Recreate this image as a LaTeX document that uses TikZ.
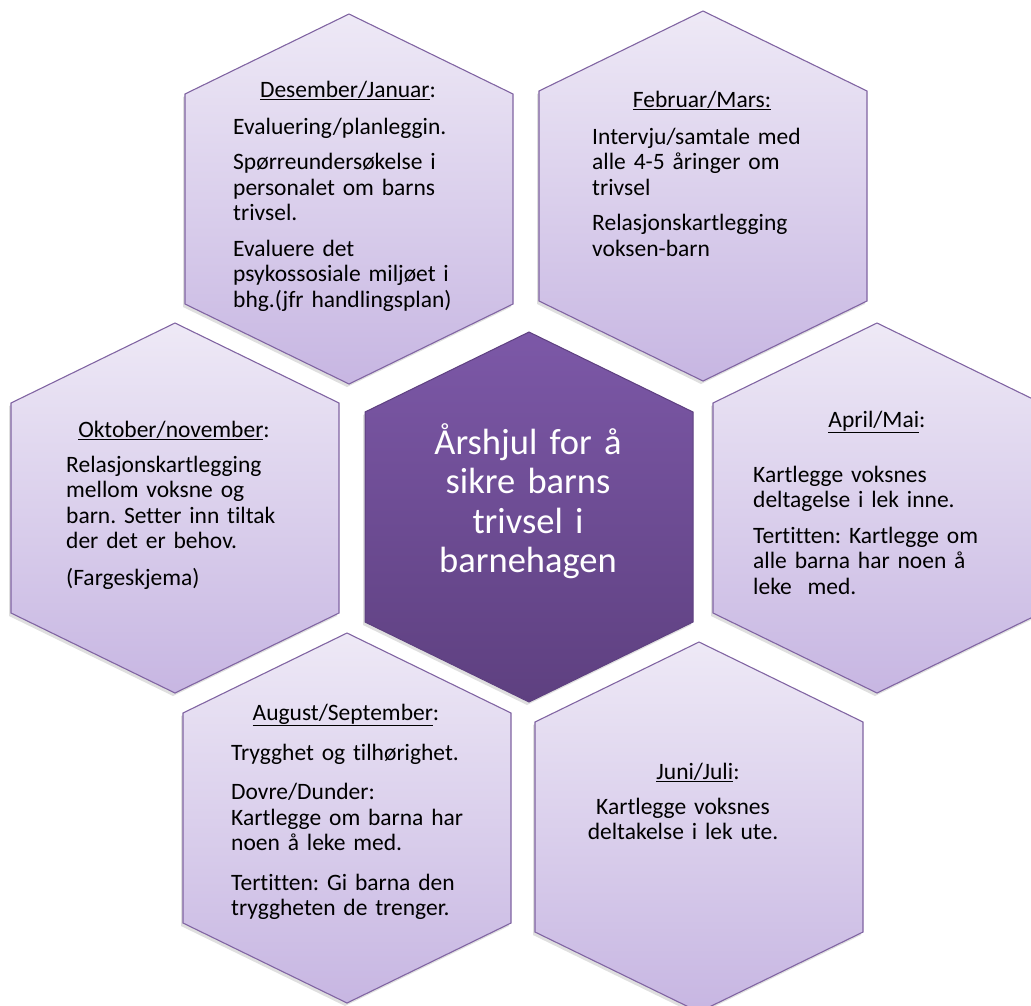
\documentclass[tikz,border=0pt]{standalone}
\usepackage{fontspec}
\setmainfont{Carlito}[Ligatures={NoCommon}]
\usetikzlibrary{shadows}

\definecolor{hexlight}{HTML}{EEE9F6}
\definecolor{hexdark}{HTML}{C7B6E2}
\definecolor{hexline}{HTML}{8064A2}
\definecolor{midtop}{HTML}{7C58A7}
\definecolor{midbot}{HTML}{5E4080}

\tikzset{
  monthhex/.style={draw=hexline, line width=1.1pt, top color=hexlight, bottom color=hexdark,
    drop shadow={opacity=0.25, shadow xshift=-2pt, shadow yshift=-3pt}},
  midhex/.style={draw=midbot, line width=1pt, top color=midtop, bottom color=midbot,
    drop shadow={opacity=0.25, shadow xshift=-2pt, shadow yshift=-3pt}},
  headtxt/.style={anchor=base, inner sep=0pt, font=\fontsize{23.5}{25.5}\selectfont},
  bodytxt/.style={anchor=base west, inner sep=0pt, align=left, text width=270pt,
    font=\fontsize{23.5}{25.5}\selectfont},
}

% hexagon round a centre (x,y), pointy top
\newcommand{\hexcell}[3]{\path[#1] (#2,#3-185) -- ++(164,80) -- ++(0,210) -- ++(-164,80) -- ++(-164,-80) -- ++(0,-210) -- cycle;}

\begin{document}
\frenchspacing
\begin{tikzpicture}[x=1pt,y=-1pt]
\useasboundingbox (0,0) rectangle (1031,1005);
\clip (0,0) rectangle (1031,1005);

\hexcell{monthhex}{349}{199} %des/jan
\hexcell{monthhex}{703}{196} %feb/mars
\hexcell{monthhex}{175}{508} %okt/nov
\hexcell{monthhex}{877}{508} %april/mai
\hexcell{monthhex}{347}{818} %aug/sep
\hexcell{monthhex}{699}{827} %juni/juli
\hexcell{midhex}{529}{517}   %centre

\node[headtxt] (dj) at (348,97) {\underline{Desember/Januar}:};
\node[bodytxt] (djtxt) at (233,134) {Evaluering/planleggin.\\[10pt]
  Spørreundersøkelse i\\ personalet om barns\\ trivsel.\\[10pt]
  Evaluere det\\ psykossosiale miljøet i\\ bhg.(jfr handlingsplan)};

\node[headtxt] (fm) at (702,107) {\underline{Februar/Mars:}};
\node[bodytxt] (fmtxt) at (592,144) {Intervju/samtale med\\ alle 4-5 åringer om\\ trivsel\\[10pt]
  Relasjonskartlegging\\ voksen-barn};

\node[headtxt] (on) at (174,437) {\underline{Oktober/november}:};
\node[bodytxt] (ontxt) at (66,472) {Relasjonskartlegging\\ mellom voksne og\\ barn. Setter inn tiltak\\ der det er behov.\\[11pt]
  (Fargeskjema)};

\node[headtxt] (am) at (877,427) {\underline{April/Mai}:};
\node[bodytxt] (amtxt) at (753,482) {Kartlegge voksnes\\ deltagelse i lek inne.\\[10pt]
  Tertitten: Kartlegge om\\ alle barna har noen å\\ leke~ med.};

\node[headtxt] (as) at (346,720) {\underline{August/September}:};
\node[bodytxt] (astxt) at (231,760) {Trygghet og tilhørighet.\\[14pt]
  Dovre/Dunder:\\ Kartlegge om barna har\\ noen å leke med.\\[14pt]
  Tertitten: Gi barna den\\ tryggheten de trenger.};

\node[headtxt] (jj) at (698,779) {\underline{Juni/Juli}:};
\node[headtxt, align=center, text width=270pt] (jjtxt) at (683,814) {Kartlegge voksnes\\ deltakelse i lek ute.};

\node[anchor=base, inner sep=0pt, align=center, text width=300pt, text=white,
  font=\fontsize{36.5}{39.5}\selectfont] (title) at (528,454) {Årshjul for å\\ sikre barns\\ trivsel i\\ barnehagen};
\end{tikzpicture}
\end{document}
